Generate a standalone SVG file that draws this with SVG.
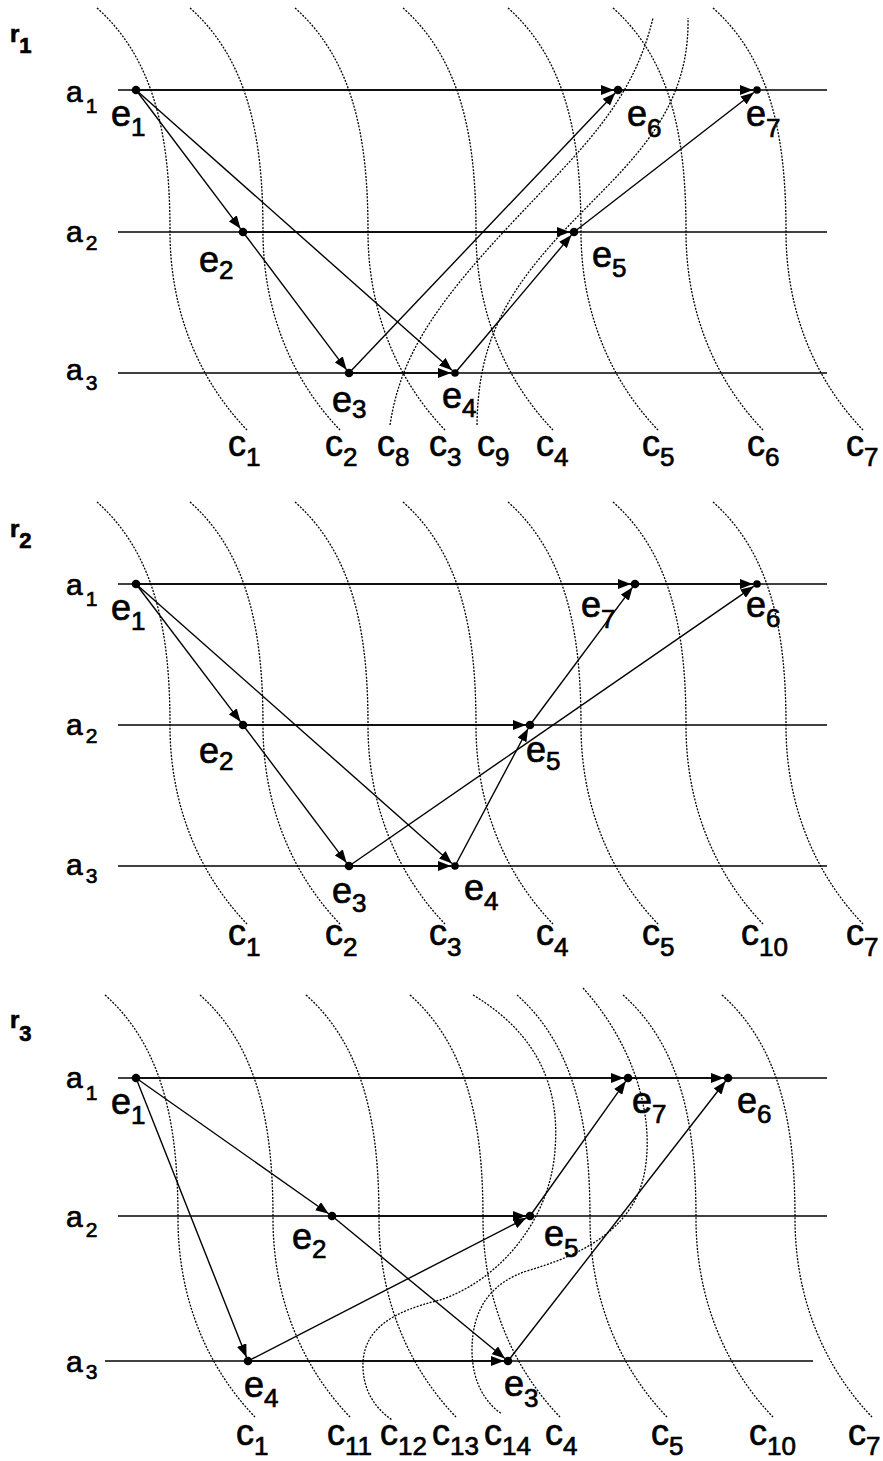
<svg xmlns="http://www.w3.org/2000/svg" xmlns:xlink="http://www.w3.org/1999/xlink" width="883" height="1461" viewBox="0 0 883 1461">
<defs>
<style>
.proc{stroke:#000;stroke-width:1.3}
.cut{fill:none;stroke:#000;stroke-width:1.3;stroke-dasharray:2 1.4}
.msg{stroke:#000;stroke-width:1.4;fill:none;marker-end:url(#ah)}
.dot{fill:#000}
text{font-family:"Liberation Sans",Arial,Helvetica,sans-serif;fill:#000;stroke:#000;stroke-width:0.7}
.lbl{font-size:36px}
.sub{font-size:26px}
.al{font-size:30px}
.asub{font-size:21px}
.rl{font-size:24px;font-weight:bold}
.rsub{font-size:22px}
</style>
<marker id="ah" viewBox="0 0 13 10" refX="13" refY="5" markerWidth="13" markerHeight="10" markerUnits="userSpaceOnUse" orient="auto"><path d="M0,0L13,5L0,10z" fill="#000"/></marker>
<path id="cutshape" d="M0,0 C62,55 73,140 73,224 C73,300 100,370 150,422"/>
</defs>
<rect width="883" height="1461" fill="#fff"/>

<!-- ================= PANEL r1 ================= -->
<g id="r1-processes">
<text class="rl" x="10" y="42">r<tspan class="rsub" dy="11">1</tspan></text>
<text class="al" x="66" y="102">a<tspan class="asub" dx="3" dy="11">1</tspan></text>
<text class="al" x="66" y="242">a<tspan class="asub" dx="3" dy="8">2</tspan></text>
<text class="al" x="66" y="380">a<tspan class="asub" dx="3" dy="10">3</tspan></text>
<line class="proc" x1="118" y1="90" x2="827" y2="90"/>
<line class="proc" x1="118" y1="232" x2="827" y2="232"/>
<line class="proc" x1="118" y1="373" x2="827" y2="373"/>
</g>
<g id="r1-cuts">
<use class="cut" xlink:href="#cutshape" href="#cutshape" x="97" y="8"/>
<use class="cut" xlink:href="#cutshape" href="#cutshape" x="190" y="8"/>
<use class="cut" xlink:href="#cutshape" href="#cutshape" x="295" y="8"/>
<use class="cut" xlink:href="#cutshape" href="#cutshape" x="403" y="8"/>
<use class="cut" xlink:href="#cutshape" href="#cutshape" x="508" y="8"/>
<use class="cut" xlink:href="#cutshape" href="#cutshape" x="613" y="8"/>
<use class="cut" xlink:href="#cutshape" href="#cutshape" x="713" y="8"/>
<path class="cut" d="M390,425 C400,360 430,310 510,225 C580,150 632,105 653,18"/>
<path class="cut" d="M477,425 C478,350 500,300 560,235 C620,170 690,120 688,18"/>
<text class="lbl" x="228" y="456">c<tspan class="sub" dy="10">1</tspan></text>
<text class="lbl" x="325" y="456">c<tspan class="sub" dy="10">2</tspan></text>
<text class="lbl" x="377" y="456">c<tspan class="sub" dy="10">8</tspan></text>
<text class="lbl" x="429" y="456">c<tspan class="sub" dy="10">3</tspan></text>
<text class="lbl" x="477" y="456">c<tspan class="sub" dy="10">9</tspan></text>
<text class="lbl" x="536" y="456">c<tspan class="sub" dy="10">4</tspan></text>
<text class="lbl" x="642" y="456">c<tspan class="sub" dy="10">5</tspan></text>
<text class="lbl" x="747" y="456">c<tspan class="sub" dy="10">6</tspan></text>
<text class="lbl" x="846" y="456">c<tspan class="sub" dy="10">7</tspan></text>
</g>
<g id="r1-connectors">
<line class="msg" x1="136" y1="90" x2="240.6" y2="228.8"/>
<line class="msg" x1="136" y1="90" x2="452" y2="370.3"/>
<line class="msg" x1="243" y1="232" x2="346.6" y2="369.8"/>
<line class="msg" x1="349" y1="373" x2="615.2" y2="92.9"/>
<line class="msg" x1="455" y1="373" x2="571.4" y2="235.1"/>
<line class="msg" x1="574" y1="232" x2="753.8" y2="92.5"/>
<line class="msg" x1="136" y1="90" x2="614" y2="90"/>
<line class="msg" x1="618" y1="90" x2="753" y2="90"/>
<line class="msg" x1="243" y1="232" x2="570" y2="232"/>
<line class="msg" x1="349" y1="373" x2="451" y2="373"/>
</g>
<g id="r1-e1"><circle class="dot" cx="136" cy="90" r="4.3"/><text class="lbl" x="111" y="126">e<tspan class="sub" dy="10">1</tspan></text></g>
<g id="r1-e2"><circle class="dot" cx="243" cy="232" r="4.3"/><text class="lbl" x="199" y="272">e<tspan class="sub" dy="7">2</tspan></text></g>
<g id="r1-e3"><circle class="dot" cx="349" cy="373" r="4.3"/><text class="lbl" x="332" y="412">e<tspan class="sub" dy="6">3</tspan></text></g>
<g id="r1-e4"><circle class="dot" cx="455" cy="373" r="3.8"/><text class="lbl" x="442" y="408">e<tspan class="sub" dy="9">4</tspan></text></g>
<g id="r1-e5"><circle class="dot" cx="574" cy="232" r="4.3"/><text class="lbl" x="592" y="267">e<tspan class="sub" dy="10">5</tspan></text></g>
<g id="r1-e6"><circle class="dot" cx="618" cy="90" r="4.3"/><text class="lbl" x="627" y="126">e<tspan class="sub" dy="11">6</tspan></text></g>
<g id="r1-e7"><circle class="dot" cx="757" cy="90" r="3.8"/><text class="lbl" x="746" y="126">e<tspan class="sub" dy="11">7</tspan></text></g>

<!-- ================= PANEL r2 ================= -->
<g id="r2-processes">
<text class="rl" x="10" y="537">r<tspan class="rsub" dy="11">2</tspan></text>
<text class="al" x="66" y="595">a<tspan class="asub" dx="3" dy="11">1</tspan></text>
<text class="al" x="66" y="735">a<tspan class="asub" dx="3" dy="8">2</tspan></text>
<text class="al" x="66" y="875">a<tspan class="asub" dx="3" dy="8">3</tspan></text>
<line class="proc" x1="118" y1="584" x2="827" y2="584"/>
<line class="proc" x1="118" y1="725" x2="827" y2="725"/>
<line class="proc" x1="118" y1="866" x2="827" y2="866"/>
</g>
<g id="r2-cuts">
<use class="cut" xlink:href="#cutshape" href="#cutshape" x="97" y="502"/>
<use class="cut" xlink:href="#cutshape" href="#cutshape" x="190" y="502"/>
<use class="cut" xlink:href="#cutshape" href="#cutshape" x="295" y="502"/>
<use class="cut" xlink:href="#cutshape" href="#cutshape" x="403" y="502"/>
<use class="cut" xlink:href="#cutshape" href="#cutshape" x="508" y="502"/>
<use class="cut" xlink:href="#cutshape" href="#cutshape" x="613" y="502"/>
<use class="cut" xlink:href="#cutshape" href="#cutshape" x="713" y="502"/>
<text class="lbl" x="228" y="945">c<tspan class="sub" dy="11">1</tspan></text>
<text class="lbl" x="325" y="945">c<tspan class="sub" dy="11">2</tspan></text>
<text class="lbl" x="429" y="945">c<tspan class="sub" dy="11">3</tspan></text>
<text class="lbl" x="536" y="945">c<tspan class="sub" dy="11">4</tspan></text>
<text class="lbl" x="642" y="945">c<tspan class="sub" dy="11">5</tspan></text>
<text class="lbl" x="741" y="945">c<tspan class="sub" dy="11">10</tspan></text>
<text class="lbl" x="846" y="945">c<tspan class="sub" dy="11">7</tspan></text>
</g>
<g id="r2-connectors">
<line class="msg" x1="136" y1="584" x2="240.6" y2="721.8"/>
<line class="msg" x1="136" y1="584" x2="452" y2="863.4"/>
<line class="msg" x1="243" y1="725" x2="346.6" y2="862.8"/>
<line class="msg" x1="349" y1="866" x2="753.7" y2="586.3"/>
<line class="msg" x1="455" y1="866" x2="528.1" y2="728.5"/>
<line class="msg" x1="530" y1="725" x2="632.6" y2="587.2"/>
<line class="msg" x1="136" y1="584" x2="631" y2="584"/>
<line class="msg" x1="635" y1="584" x2="753" y2="584"/>
<line class="msg" x1="243" y1="725" x2="526" y2="725"/>
<line class="msg" x1="349" y1="866" x2="451" y2="866"/>
</g>
<g id="r2-e1"><circle class="dot" cx="136" cy="584" r="4.3"/><text class="lbl" x="111" y="620">e<tspan class="sub" dy="10">1</tspan></text></g>
<g id="r2-e2"><circle class="dot" cx="243" cy="725" r="4.3"/><text class="lbl" x="199" y="763">e<tspan class="sub" dy="7">2</tspan></text></g>
<g id="r2-e3"><circle class="dot" cx="349" cy="866" r="4.3"/><text class="lbl" x="332" y="903">e<tspan class="sub" dy="9">3</tspan></text></g>
<g id="r2-e4"><circle class="dot" cx="455" cy="866" r="3.8"/><text class="lbl" x="464" y="900">e<tspan class="sub" dy="10">4</tspan></text></g>
<g id="r2-e5"><circle class="dot" cx="530" cy="725" r="4.3"/><text class="lbl" x="526" y="762">e<tspan class="sub" dy="8">5</tspan></text></g>
<g id="r2-e7"><circle class="dot" cx="635" cy="584" r="4.3"/><text class="lbl" x="581" y="617">e<tspan class="sub" dy="11">7</tspan></text></g>
<g id="r2-e6"><circle class="dot" cx="757" cy="584" r="3.8"/><text class="lbl" x="746" y="617">e<tspan class="sub" dy="10">6</tspan></text></g>

<!-- ================= PANEL r3 ================= -->
<g id="r3-processes">
<text class="rl" x="10" y="1028">r<tspan class="rsub" dy="13">3</tspan></text>
<text class="al" x="66" y="1088">a<tspan class="asub" dx="3" dy="12">1</tspan></text>
<text class="al" x="66" y="1227">a<tspan class="asub" dx="3" dy="10">2</tspan></text>
<text class="al" x="66" y="1372">a<tspan class="asub" dx="3" dy="7">3</tspan></text>
<line class="proc" x1="118" y1="1078" x2="827" y2="1078"/>
<line class="proc" x1="118" y1="1216" x2="827" y2="1216"/>
<line class="proc" x1="105" y1="1361" x2="813" y2="1361"/>
</g>
<g id="r3-cuts">
<use class="cut" xlink:href="#cutshape" href="#cutshape" x="105" y="995"/>
<use class="cut" xlink:href="#cutshape" href="#cutshape" x="200" y="995"/>
<use class="cut" xlink:href="#cutshape" href="#cutshape" x="306" y="995"/>
<use class="cut" xlink:href="#cutshape" href="#cutshape" x="410" y="995"/>
<use class="cut" xlink:href="#cutshape" href="#cutshape" x="517" y="995"/>
<use class="cut" xlink:href="#cutshape" href="#cutshape" x="623" y="995"/>
<use class="cut" xlink:href="#cutshape" href="#cutshape" x="722" y="995"/>
<path class="cut" d="M473,995 C540,1035 560,1090 555,1150 C550,1220 500,1280 440,1300 C390,1312 365,1330 363,1362 C362,1390 375,1408 392,1420"/>
<path class="cut" d="M583,988 C630,1040 655,1110 645,1170 C635,1230 580,1255 530,1270 C490,1282 472,1310 472,1350 C472,1385 488,1405 502,1414"/>
<text class="lbl" x="236" y="1445">c<tspan class="sub" dy="10">1</tspan></text>
<text class="lbl" x="327" y="1445">c<tspan class="sub" dy="10">11</tspan></text>
<text class="lbl" x="380" y="1445">c<tspan class="sub" dy="10">12</tspan></text>
<text class="lbl" x="432" y="1445">c<tspan class="sub" dy="10">13</tspan></text>
<text class="lbl" x="484" y="1445">c<tspan class="sub" dy="10">14</tspan></text>
<text class="lbl" x="545" y="1445">c<tspan class="sub" dy="10">4</tspan></text>
<text class="lbl" x="651" y="1445">c<tspan class="sub" dy="10">5</tspan></text>
<text class="lbl" x="749" y="1445">c<tspan class="sub" dy="10">10</tspan></text>
<text class="lbl" x="848" y="1445">c<tspan class="sub" dy="10">7</tspan></text>
</g>
<g id="r3-connectors">
<line class="msg" x1="136" y1="1078" x2="246.5" y2="1357.3"/>
<line class="msg" x1="136" y1="1078" x2="328.7" y2="1213.7"/>
<line class="msg" x1="332" y1="1216" x2="504.9" y2="1358.5"/>
<line class="msg" x1="248" y1="1361" x2="526.4" y2="1217.8"/>
<line class="msg" x1="530" y1="1216" x2="625.7" y2="1081.3"/>
<line class="msg" x1="508" y1="1361" x2="725.5" y2="1081.2"/>
<line class="msg" x1="136" y1="1078" x2="624" y2="1078"/>
<line class="msg" x1="628" y1="1078" x2="724" y2="1078"/>
<line class="msg" x1="332" y1="1216" x2="526" y2="1216"/>
<line class="msg" x1="248" y1="1361" x2="504" y2="1361"/>
</g>
<g id="r3-e1"><circle class="dot" cx="136" cy="1078" r="4.3"/><text class="lbl" x="111" y="1114">e<tspan class="sub" dy="10">1</tspan></text></g>
<g id="r3-e2"><circle class="dot" cx="332" cy="1216" r="4.3"/><text class="lbl" x="292" y="1249">e<tspan class="sub" dy="9">2</tspan></text></g>
<g id="r3-e4"><circle class="dot" cx="248" cy="1361" r="4.3"/><text class="lbl" x="244" y="1397">e<tspan class="sub" dy="10">4</tspan></text></g>
<g id="r3-e3"><circle class="dot" cx="508" cy="1361" r="4.3"/><text class="lbl" x="504" y="1396">e<tspan class="sub" dy="11">3</tspan></text></g>
<g id="r3-e5"><circle class="dot" cx="530" cy="1216" r="4.3"/><text class="lbl" x="544" y="1246">e<tspan class="sub" dy="11">5</tspan></text></g>
<g id="r3-e7"><circle class="dot" cx="628" cy="1078" r="4.3"/><text class="lbl" x="632" y="1113">e<tspan class="sub" dy="10">7</tspan></text></g>
<g id="r3-e6"><circle class="dot" cx="728" cy="1078" r="4.3"/><text class="lbl" x="737" y="1113">e<tspan class="sub" dy="10">6</tspan></text></g>
</svg>
